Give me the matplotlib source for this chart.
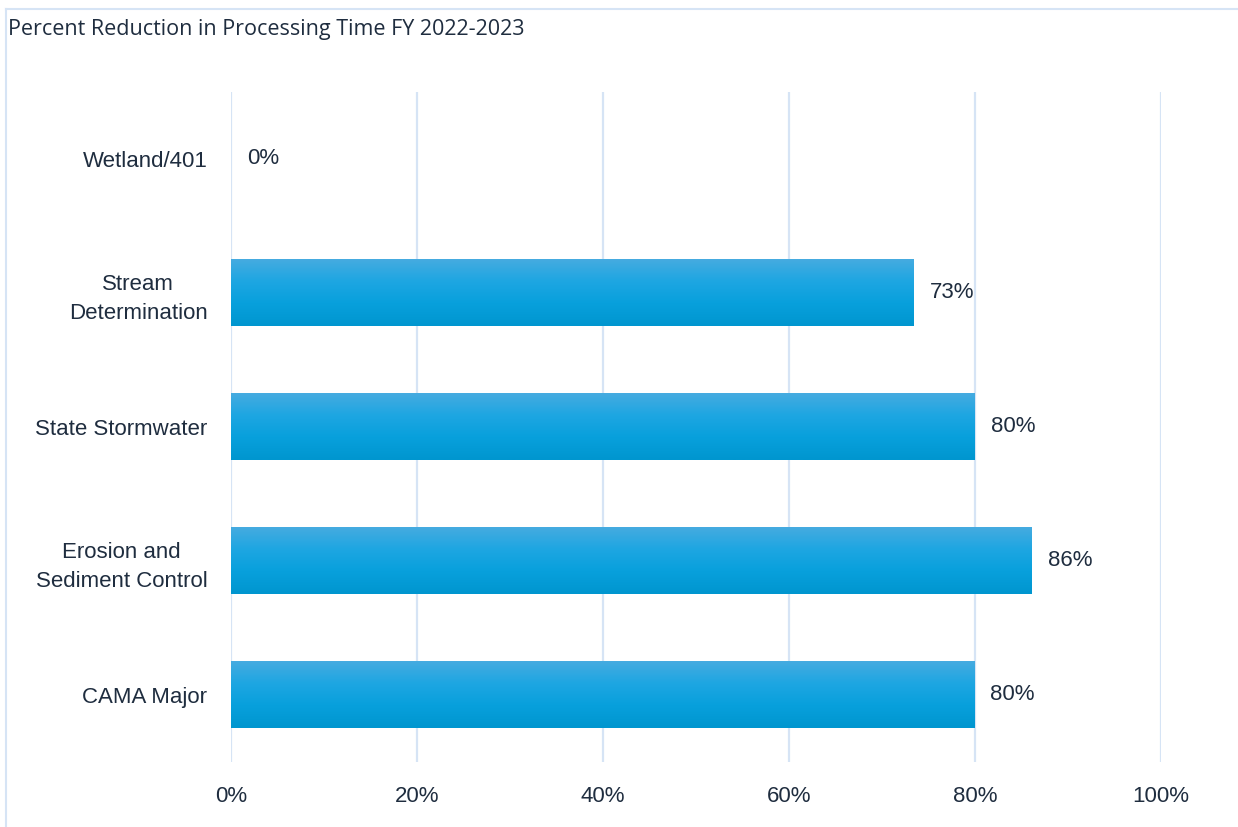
import numpy as np
import matplotlib
matplotlib.use("Agg")
import matplotlib.pyplot as plt
from matplotlib.lines import Line2D

categories = ["Wetland/401", "Stream\nDetermination", "State Stormwater",
              "Erosion and\nSediment Control", "CAMA Major"]
values = [0.0, 0.734, 0.80, 0.861, 0.799]
value_labels = ["0%", "73%", "80%", "86%", "80%"]
xticks = [0, 0.2, 0.4, 0.6, 0.8, 1.0]
xtick_labels = ["0%", "20%", "40%", "60%", "80%", "100%"]
title = "Percent Reduction in Processing Time FY 2022-2023"

text_color = "#1f2d3f"
grid_color = "#d6e4f5"
fs = 16

fig = plt.figure(figsize=(12.38, 8.27), dpi=100)
ax = fig.add_axes([231/1238, 65/827, 930/1238, 670/827])

# frame lines of the chart area
fig.add_artist(Line2D([6/1238, 1.0], [1 - 9/827, 1 - 9/827], transform=fig.transFigure,
                      color=grid_color, lw=1.5))
fig.add_artist(Line2D([6/1238, 6/1238], [0, 1 - 9/827], transform=fig.transFigure,
                      color=grid_color, lw=1.5))

fig.text(8/1238, 1 - 30/827, title, fontsize=15.5, color=text_color,
         family="Open Sans", va="center", ha="left")

n = len(categories)
ypos = np.arange(n)
bar_h = 0.5

# vertical gradient (top lighter -> bottom darker)
grad_colors = np.array([
    [0x45, 0xab, 0xe0],
    [0x1d, 0xa6, 0xe2],
    [0x08, 0xa0, 0xdc],
    [0x00, 0x96, 0xcf],
]) / 255.0
t = np.linspace(0, 1, 64)
stops = np.linspace(0, 1, len(grad_colors))
grad = np.stack([np.interp(t, stops, grad_colors[:, c]) for c in range(3)], axis=-1)
grad_img = grad[:, None, :]

for y, v, lab in zip(ypos, values, value_labels):
    if v > 0:
        ax.imshow(grad_img, extent=(0, v, y + bar_h/2, y - bar_h/2), aspect="auto",
                  origin="upper", zorder=2, interpolation="bilinear")
    ax.text(v + 0.017, y, lab, va="center", ha="left", fontsize=fs,
            color=text_color, family="Liberation Sans")

ax.set_xlim(0, 1.0)
ax.set_ylim(n - 0.5, -0.5)
ax.set_aspect("auto")

ax.set_xticks(xticks)
ax.set_xticklabels(xtick_labels, fontsize=fs, color=text_color, family="Liberation Sans")
ax.set_yticks(ypos)
ax.set_yticklabels(categories, fontsize=fs, color=text_color, family="Liberation Sans",
                   ha="right", multialignment="center", linespacing=1.45)
ax.tick_params(axis="y", length=0, pad=17)
ax.tick_params(axis="x", length=0, pad=17)

ax.grid(axis="x", color=grid_color, lw=1.6, zorder=0)
ax.set_axisbelow(True)
for s in ax.spines.values():
    s.set_visible(False)

fig.savefig("out.png", dpi=100)
